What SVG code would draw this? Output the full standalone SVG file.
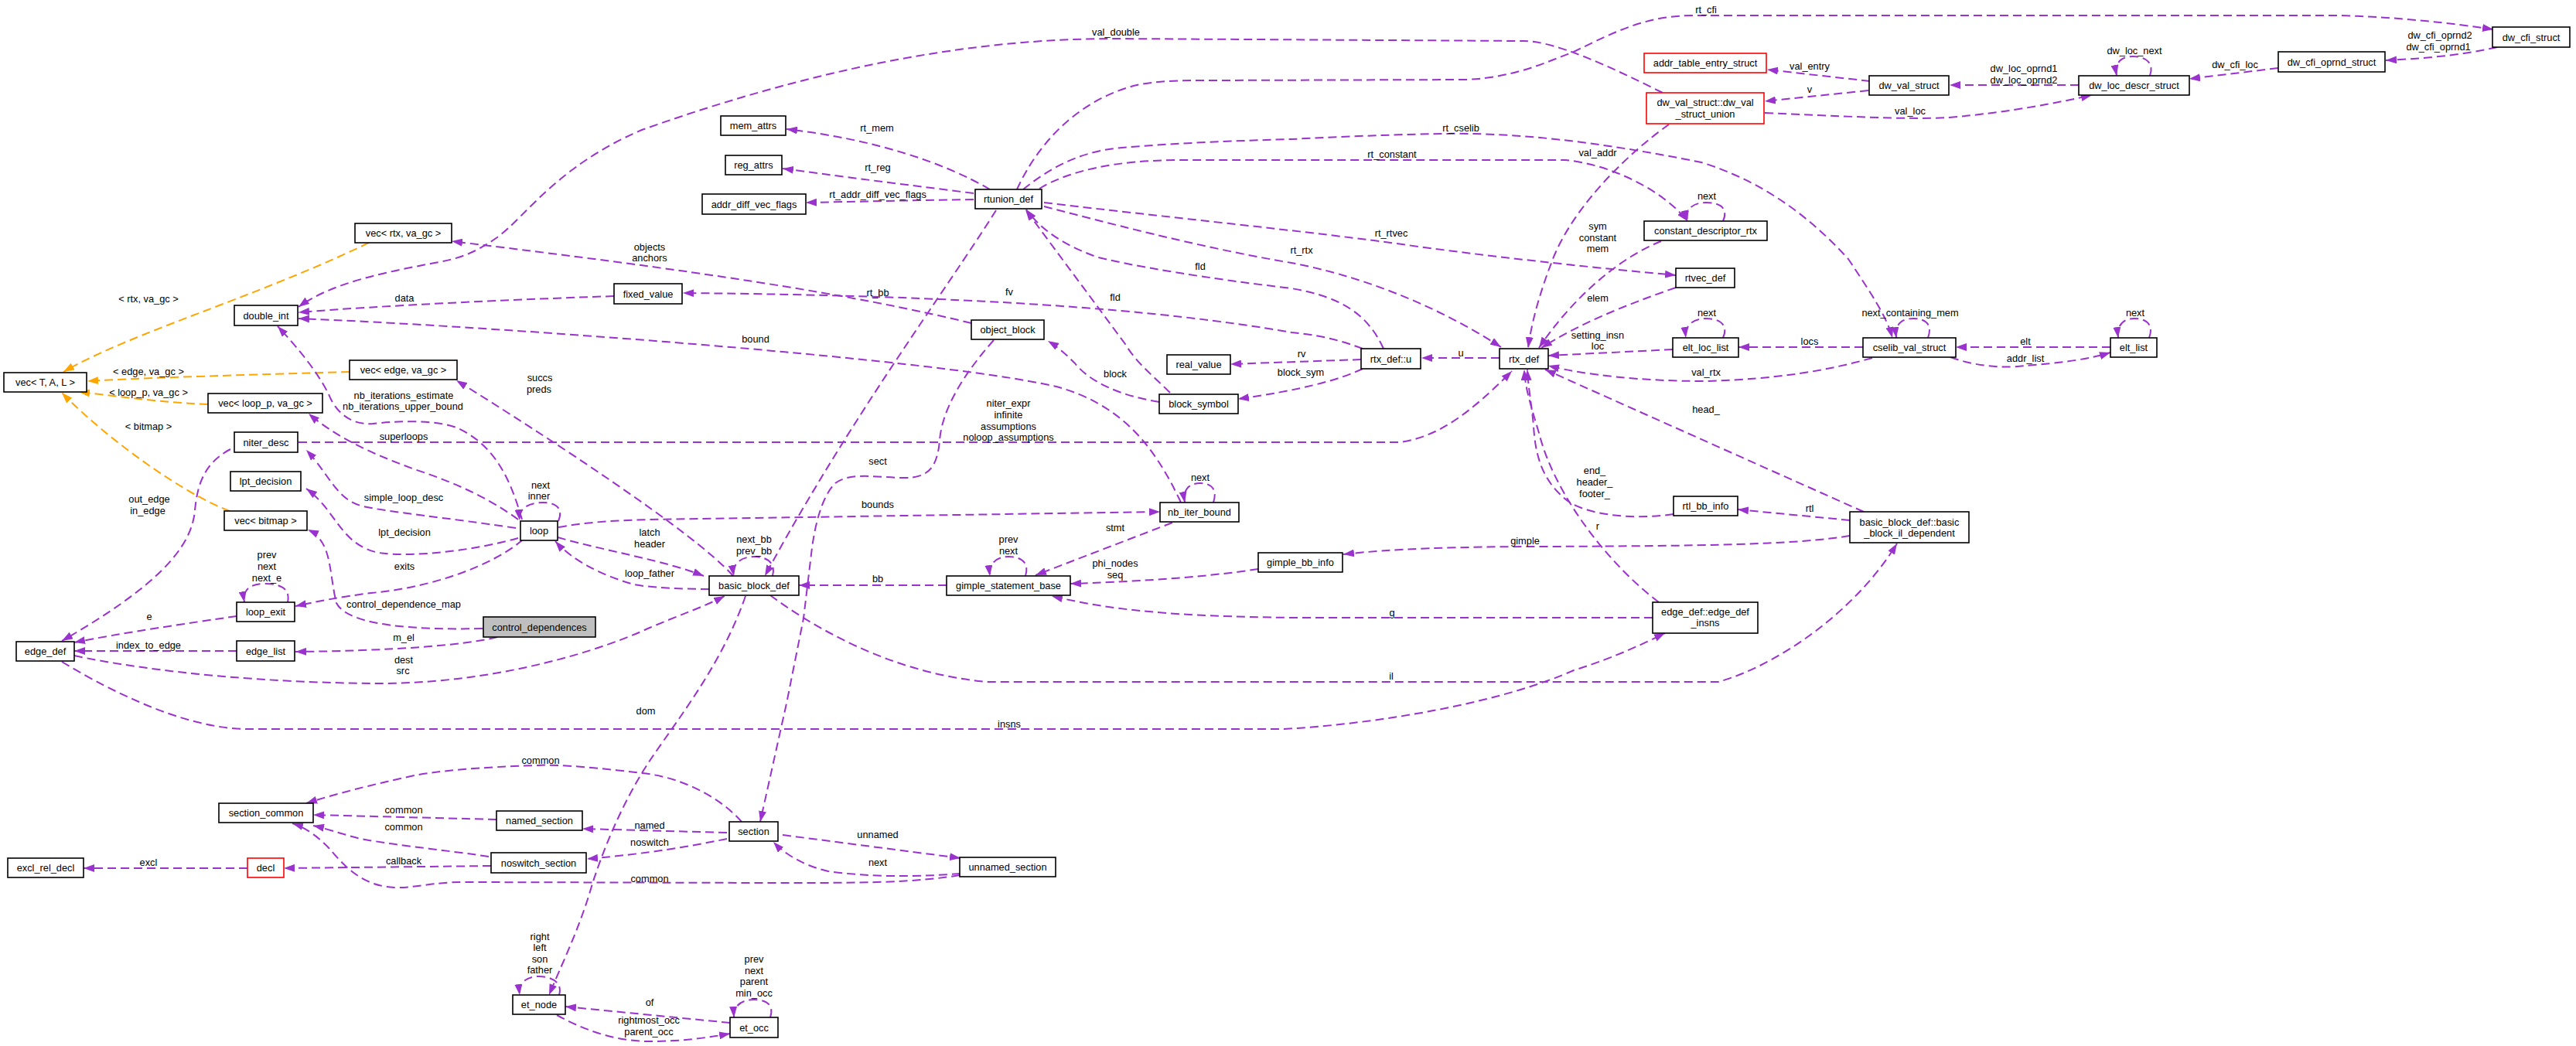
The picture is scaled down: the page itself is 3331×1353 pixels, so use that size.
<svg xmlns="http://www.w3.org/2000/svg" width="3331" height="1353" viewBox="0 0 3331 1353">
<style>
text{font-family:"Liberation Sans",Arial,Helvetica,sans-serif;font-size:12.8px;fill:#000;text-anchor:middle;dominant-baseline:central}
.n rect{fill:#fff;stroke:#000;stroke-width:1.6}
.n.red rect{stroke:#ff0000}
.n.sel rect{fill:#bfbfbf}
.e path{fill:none;stroke:#9a32cd;stroke-width:2;stroke-dasharray:11,6;marker-end:url(#ap)}
.o path{fill:none;stroke:#ffa500;stroke-width:2;stroke-dasharray:11,6;marker-end:url(#ao)}
</style>
<defs>
<marker id="ap" viewBox="0 0 14 10" refX="14" refY="5" markerWidth="14" markerHeight="10" markerUnits="userSpaceOnUse" orient="auto"><path d="M0,0 L14,5 L0,10 z" fill="#9a32cd"/></marker>
<marker id="ao" viewBox="0 0 14 10" refX="14" refY="5" markerWidth="14" markerHeight="10" markerUnits="userSpaceOnUse" orient="auto"><path d="M0,0 L14,5 L0,10 z" fill="#ffa500"/></marker>
</defs>
<rect width="3331" height="1353" fill="#fff"/>
<g id="connectors">
<g class="o"><path d="M477,314 C330,385 170,430 82,481"/><text x="192" y="386">&lt; rtx, va_gc &gt;</text></g>
<g class="o"><path d="M452,481 C350,484 200,488 113,493"/><text x="192" y="480">&lt; edge, va_gc &gt;</text></g>
<g class="o"><path d="M269,523 C200,520 150,512 102,507"/><text x="192" y="507">&lt; loop_p, va_gc &gt;</text></g>
<g class="o"><path d="M297,661 C240,640 140,570 80,508"/><text x="192" y="551">&lt; bitmap &gt;</text></g>
<g class="e"><path d="M2150,120 C2080,85 2010,53 1970,53 L1440,50 C1250,50 1050,90 830,168 C720,215 680,280 643,307 C610,330 590,335 562,340 C500,352 430,365 386,397"/><text x="1443" y="41">val_double</text></g>
<g class="e"><path d="M794,383 C650,388 500,395 386,404"/><text x="523" y="385">data</text></g>
<g class="e"><path d="M1527,650 C1490,570 1445,522 1366,500 C1200,462 600,420 386,412"/><text x="977" y="438">bound</text></g>
<g class="e"><path d="M675,672 C660,620 640,575 590,553 C560,542 510,545 482,548 C455,550 435,535 425,510 C410,480 385,450 359,422"/><text x="522" y="511">nb_iterations_estimate</text><text x="521" y="525">nb_iterations_upper_bound</text></g>
<g class="e"><path d="M1256,418 C1100,380 900,350 584,312"/><text x="840" y="319">objects</text><text x="840" y="333">anchors</text></g>
<g class="e"><path d="M1762,451 C1720,435 1690,432 1670,430 C1500,400 1250,382 883,379"/><text x="1305" y="377">fv</text></g>
<g class="e"><path d="M1789,451 C1770,410 1740,385 1670,373 C1560,360 1470,345 1420,333 C1370,315 1345,295 1327,271"/><text x="1552" y="344">fld</text></g>
<g class="e"><path d="M1513,508 C1490,485 1470,470 1455,445 L1326,271"/><text x="1442" y="384">fld</text></g>
<g class="e"><path d="M1288,272 C1220,380 1100,540 989,745"/><text x="1135" y="378">rt_bb</text></g>
<g class="e"><path d="M1280,245 C1220,210 1130,180 1017,167"/><text x="1134" y="165">rt_mem</text></g>
<g class="e"><path d="M1259,250 C1180,240 1100,230 1012,218"/><text x="1135" y="216">rt_reg</text></g>
<g class="e"><path d="M1259,258 C1180,259 1100,261 1042,262"/><text x="1135" y="251">rt_addr_diff_vec_flags</text></g>
<g class="e"><path d="M1315,245 C1340,190 1390,130 1470,110 C1500,104 1530,104 1560,104 L1896,103 C1960,100 2000,80 2035,67 C2090,40 2130,20 2190,20 L3026,20 C3100,22 3170,30 3224,38"/><text x="2206" y="12">rt_cfi</text></g>
<g class="e"><path d="M2418,105 L2285,90"/><text x="2340" y="85">val_entry</text></g>
<g class="e"><path d="M2416,117 L2282,131"/><text x="2340" y="115">v</text></g>
<g class="e"><path d="M2282,146 C2380,150 2460,155 2520,152 C2600,145 2660,133 2705,123"/><text x="2470" y="143">val_loc</text></g>
<g class="e"><path d="M2688,110 L2521,110"/><text x="2617" y="88">dw_loc_oprnd1</text><text x="2617" y="103">dw_loc_oprnd2</text></g>
<g class="e"><path d="M2780,98 C2786,82 2775,73 2758,73 C2742,73 2734,82 2737,98"/><text x="2760" y="65">dw_loc_next</text></g>
<g class="e"><path d="M2946,88 L2831,102"/><text x="2890" y="83">dw_cfi_loc</text></g>
<g class="e"><path d="M3229,61 C3180,72 3130,76 3085,78"/><text x="3155" y="45">dw_cfi_oprnd2</text><text x="3153" y="60">dw_cfi_oprnd1</text></g>
<g class="e"><path d="M2158,161 C2110,195 2040,260 2010,330 C1990,380 1980,420 1976,450"/><text x="2066" y="197">val_addr</text></g>
<g class="e"><path d="M1323,245 C1360,215 1400,195 1451,191 C1520,185 1600,182 1670,180 C1750,176 1850,172 1906,173 C2000,175 2100,190 2200,210 C2280,235 2340,280 2390,335 C2420,380 2440,410 2447,437"/><text x="1889" y="165">rt_cselib</text></g>
<g class="e"><path d="M1344,244 C1380,222 1440,207 1526,207 L2024,207 C2080,212 2150,245 2182,286"/><text x="1800" y="199">rt_constant</text></g>
<g class="e"><path d="M2228,286 C2236,268 2222,262 2206,262 C2190,262 2178,270 2182,286"/><text x="2207" y="253">next</text></g>
<g class="e"><path d="M2148,312 C2090,335 2030,390 1990,450"/><text x="2066" y="292">sym</text><text x="2066" y="307">constant</text><text x="2066" y="321">mem</text></g>
<g class="e"><path d="M1350,262 C1500,280 1700,300 1820,317 C1950,335 2080,348 2167,356"/><text x="1799" y="301">rt_rtvec</text></g>
<g class="e"><path d="M1350,267 C1420,285 1550,320 1670,340 C1750,355 1850,390 1941,449"/><text x="1683" y="323">rt_rtx</text></g>
<g class="e"><path d="M2167,372 C2100,395 2040,420 1993,450"/><text x="2066" y="385">elem</text></g>
<g class="e"><path d="M2163,452 L2002,460"/><text x="2066" y="433">setting_insn</text><text x="2066" y="447">loc</text></g>
<g class="e"><path d="M2228,437 C2236,419 2222,412 2206,412 C2190,412 2178,420 2180,437"/><text x="2207" y="404">next</text></g>
<g class="e"><path d="M2409,449 L2248,449"/><text x="2340" y="441">locs</text></g>
<g class="e"><path d="M2493,437 C2500,418 2488,412 2474,412 C2458,412 2450,420 2452,437"/><text x="2470" y="404">next_containing_mem</text></g>
<g class="e"><path d="M2729,449 L2529,449"/><text x="2619" y="441">elt</text></g>
<g class="e"><path d="M2522,462 C2560,476 2600,476 2619,473 C2660,470 2700,465 2729,456"/><text x="2619" y="463">addr_list</text></g>
<g class="e"><path d="M2779,437 C2786,419 2774,412 2760,412 C2746,412 2737,420 2739,437"/><text x="2761" y="404">next</text></g>
<g class="e"><path d="M2421,463 C2360,480 2300,490 2206,493 C2120,493 2050,485 2002,473"/><text x="2206" y="481">val_rtx</text></g>
<g class="e"><path d="M1939,463 L1838,463"/><text x="1889" y="456">u</text></g>
<g class="e"><path d="M1760,465 L1591,471"/><text x="1683" y="457">rv</text></g>
<g class="e"><path d="M1762,477 C1730,492 1680,505 1601,516"/><text x="1682" y="481">block_sym</text></g>
<g class="e"><path d="M1499,520 C1450,512 1410,495 1390,470 C1380,460 1370,450 1355,441"/><text x="1442" y="483">block</text></g>
<g class="e"><path d="M1285,440 C1245,485 1218,530 1215,570 C1212,605 1200,618 1170,618 C1135,618 1100,610 1080,625 C1060,645 1052,690 1049,717 L1039,800 L1017,910 L983,1063"/><text x="1135" y="596">sect</text></g>
<g class="e"><path d="M948,745 C900,690 700,560 590,492"/><text x="698" y="488">succs</text><text x="697" y="503">preds</text></g>
<g class="e"><path d="M386,572 L1810,572 C1860,565 1900,535 1955,480"/><text x="1304" y="521">niter_expr</text><text x="1304" y="536">infinite</text><text x="1304" y="551">assumptions</text><text x="1304" y="565">noloop_assumptions</text></g>
<g class="e"><path d="M670,672 C640,650 600,628 536,607 C490,590 440,570 399,535"/><text x="522" y="564">superloops</text></g>
<g class="e"><path d="M298,581 C262,600 255,630 252,660 C248,710 200,760 80,829"/><text x="193" y="645">out_edge</text><text x="191" y="660">in_edge</text></g>
<g class="e"><path d="M667,683 C580,670 500,662 470,655 C435,647 427,615 396,582"/><text x="522" y="643">simple_loop_desc</text></g>
<g class="e"><path d="M670,696 C620,710 540,722 490,715 C440,705 435,660 396,632"/><text x="523" y="688">lpt_decision</text></g>
<g class="e"><path d="M676,698 C640,730 560,760 480,767 C440,772 410,778 382,784"/><text x="523" y="732">exits</text></g>
<g class="e"><path d="M624,813 C540,815 450,810 435,780 C425,740 430,700 398,685"/><text x="522" y="781">control_dependence_map</text></g>
<g class="e"><path d="M643,824 C600,835 500,842 382,843"/><text x="522" y="824">m_el</text></g>
<g class="e"><path d="M306,842 L96,842"/><text x="192" y="834">index_to_edge</text></g>
<g class="e"><path d="M306,797 C250,805 150,820 96,831"/><text x="193" y="797">e</text></g>
<g class="e"><path d="M372,779 C376,760 360,755 343,755 C325,755 313,762 316,779"/><text x="345" y="717">prev</text><text x="345" y="732">next</text><text x="345" y="747">next_e</text></g>
<g class="e"><path d="M722,674 C730,655 715,650 702,650 C688,650 670,655 672,673"/><text x="699" y="627">next</text><text x="697" y="641">inner</text></g>
<g class="e"><path d="M721,695 C780,712 860,725 910,745"/><text x="840" y="688">latch</text><text x="840" y="703">header</text></g>
<g class="e"><path d="M722,682 C760,675 800,673 840,672 L1500,662"/><text x="1135" y="652">bounds</text></g>
<g class="e"><path d="M917,762 C880,762 840,760 820,756 C780,745 740,725 718,700"/><text x="840" y="741">loop_father</text></g>
<g class="e"><path d="M96,848 C200,870 350,884 500,884 C650,882 780,840 840,812 C880,795 910,785 937,771"/><text x="522" y="853">dest</text><text x="521" y="867">src</text></g>
<g class="e"><path d="M80,856 C120,880 150,895 180,908 C230,930 280,943 320,943 L1660,943 C1800,935 1950,905 2035,867 C2090,850 2130,830 2153,819"/><text x="1305" y="936">insns</text></g>
<g class="e"><path d="M996,770 C1050,810 1150,870 1275,882 L2222,882 C2300,860 2400,790 2453,703"/><text x="1799" y="874">il</text></g>
<g class="e"><path d="M2137,799 L1670,799 C1520,797 1440,790 1360,771"/><text x="1800" y="792">g</text></g>
<g class="e"><path d="M2145,779 C2080,730 2010,640 1990,560 C1978,520 1972,500 1971,478"/><text x="2066" y="680">r</text></g>
<g class="e"><path d="M2164,665 C2120,672 2060,668 2030,650 C1995,625 1985,590 1983,550 C1980,520 1976,500 1975,478"/><text x="2062" y="608">end_</text><text x="2062" y="623">header_</text><text x="2062" y="638">footer_</text></g>
<g class="e"><path d="M2410,662 L1998,478"/><text x="2206" y="529">head_</text></g>
<g class="e"><path d="M2392,673 L2247,659"/><text x="2340" y="657">rtl</text></g>
<g class="e"><path d="M2392,693 C2320,705 2200,706 2000,707 C1880,707 1800,710 1737,717"/><text x="1972" y="699">gimple</text></g>
<g class="e"><path d="M1627,736 C1550,748 1450,753 1384,755"/><text x="1442" y="728">phi_nodes</text><text x="1442" y="743">seq</text></g>
<g class="e"><path d="M1516,676 L1339,744"/><text x="1442" y="682">stmt</text></g>
<g class="e"><path d="M1326,745 C1332,726 1318,720 1304,720 C1290,720 1278,728 1280,745"/><text x="1304" y="697">prev</text><text x="1304" y="712">next</text></g>
<g class="e"><path d="M1569,650 C1575,632 1565,625 1552,625 C1538,625 1529,633 1532,650"/><text x="1552" y="617">next</text></g>
<g class="e"><path d="M1224,757 L1033,757"/><text x="1135" y="748">bb</text></g>
<g class="e"><path d="M999,745 C1004,727 990,720 975,720 C960,720 946,728 949,745"/><text x="975" y="697">next_bb</text><text x="975" y="712">prev_bb</text></g>
<g class="e"><path d="M964,771 C930,870 860,950 830,1000 C800,1050 780,1100 766,1143 C750,1200 725,1250 710,1287"/><text x="835" y="919">dom</text></g>
<g class="e"><path d="M959,1063 C930,1030 880,1005 830,1000 C780,994 720,988 696,990 C620,992 560,998 536,1003 C480,1015 430,1028 396,1039"/><text x="699" y="983">common</text></g>
<g class="e"><path d="M642,1060 L405,1054"/><text x="522" y="1047">common</text></g>
<g class="e"><path d="M632,1108 C580,1100 480,1090 455,1082 C430,1075 415,1070 405,1068"/><text x="522" y="1069">common</text></g>
<g class="e"><path d="M635,1120 L367,1123"/><text x="522" y="1113">callback</text></g>
<g class="e"><path d="M320,1123 L108,1123"/><text x="192" y="1115">excl</text></g>
<g class="e"><path d="M1241,1132 C1180,1142 1120,1142 1000,1142 L600,1141 C560,1141 540,1148 514,1148 C470,1148 445,1120 428,1100 C415,1085 395,1070 378,1065"/><text x="840" y="1136">common</text></g>
<g class="e"><path d="M940,1077 L753,1072"/><text x="840" y="1067">named</text></g>
<g class="e"><path d="M940,1085 C890,1095 840,1104 759,1111"/><text x="840" y="1089">noswitch</text></g>
<g class="e"><path d="M1012,1080 L1242,1110"/><text x="1135" y="1079">unnamed</text></g>
<g class="e"><path d="M1242,1130 C1180,1135 1120,1134 1071,1127 C1040,1120 1015,1105 1000,1089"/><text x="1135" y="1115">next</text></g>
<g class="e"><path d="M944,1323 L731,1302"/><text x="840" y="1296">of</text></g>
<g class="e"><path d="M720,1313 C760,1335 800,1347 840,1347 C880,1347 910,1343 944,1337"/><text x="839" y="1319">rightmost_occ</text><text x="839" y="1334">parent_occ</text></g>
<g class="e"><path d="M723,1287 C728,1270 712,1263 697,1263 C682,1263 670,1270 672,1287"/><text x="698" y="1211">right</text><text x="698" y="1225">left</text><text x="698" y="1240">son</text><text x="698" y="1254">father</text></g>
<g class="e"><path d="M996,1316 C1002,1298 988,1293 975,1293 C960,1293 948,1300 949,1316"/><text x="975" y="1240">prev</text><text x="975" y="1255">next</text><text x="975" y="1269">parent</text><text x="975" y="1284">min_occ</text></g>
</g>
<g id="n_vec_rtx" class="n"><rect x="459" y="289" width="125" height="25"/><text x="521.5" y="301.5">vec&lt; rtx, va_gc &gt;</text></g>
<g id="n_double_int" class="n"><rect x="303" y="395" width="82" height="26"/><text x="344" y="408">double_int</text></g>
<g id="n_fixed_value" class="n"><rect x="794" y="367" width="88" height="26"/><text x="838" y="380">fixed_value</text></g>
<g id="n_mem_attrs" class="n"><rect x="932" y="150" width="84" height="25"/><text x="974" y="162.5">mem_attrs</text></g>
<g id="n_reg_attrs" class="n"><rect x="938" y="201" width="73" height="25"/><text x="974.5" y="213.5">reg_attrs</text></g>
<g id="n_addr_diff_vec_flags" class="n"><rect x="908" y="251" width="134" height="26"/><text x="975" y="264">addr_diff_vec_flags</text></g>
<g id="n_rtunion_def" class="n"><rect x="1261" y="245" width="86" height="25"/><text x="1304" y="257.5">rtunion_def</text></g>
<g id="n_object_block" class="n"><rect x="1256" y="414" width="94" height="25"/><text x="1303" y="426.5">object_block</text></g>
<g id="n_addr_table_entry_struct" class="n red"><rect x="2126" y="69" width="158" height="25"/><text x="2205" y="81.5">addr_table_entry_struct</text></g>
<g id="n_dw_val_struct_union" class="n red"><rect x="2129" y="120" width="152" height="40"/><text x="2205" y="132">dw_val_struct::dw_val</text><text x="2205" y="147">_struct_union</text></g>
<g id="n_dw_val_struct" class="n"><rect x="2417" y="98" width="103" height="25"/><text x="2468.5" y="110.5">dw_val_struct</text></g>
<g id="n_dw_loc_descr_struct" class="n"><rect x="2688" y="98" width="143" height="25"/><text x="2759.5" y="110.5">dw_loc_descr_struct</text></g>
<g id="n_dw_cfi_oprnd_struct" class="n"><rect x="2946" y="67" width="138" height="26"/><text x="3015" y="80">dw_cfi_oprnd_struct</text></g>
<g id="n_dw_cfi_struct" class="n"><rect x="3223" y="35" width="100" height="26"/><text x="3273" y="48">dw_cfi_struct</text></g>
<g id="n_constant_descriptor_rtx" class="n"><rect x="2126" y="286" width="159" height="25"/><text x="2205.5" y="298.5">constant_descriptor_rtx</text></g>
<g id="n_rtvec_def" class="n"><rect x="2167" y="347" width="76" height="25"/><text x="2205" y="359.5">rtvec_def</text></g>
<g id="n_elt_loc_list" class="n"><rect x="2163" y="437" width="85" height="25"/><text x="2205.5" y="449.5">elt_loc_list</text></g>
<g id="n_cselib_val_struct" class="n"><rect x="2409" y="437" width="120" height="25"/><text x="2469" y="449.5">cselib_val_struct</text></g>
<g id="n_elt_list" class="n"><rect x="2729" y="437" width="60" height="25"/><text x="2759" y="449.5">elt_list</text></g>
<g id="n_rtx_def" class="n"><rect x="1939" y="451" width="63" height="26"/><text x="1970.5" y="464">rtx_def</text></g>
<g id="n_rtx_def_u" class="n"><rect x="1760" y="451" width="77" height="26"/><text x="1798.5" y="464">rtx_def::u</text></g>
<g id="n_real_value" class="n"><rect x="1509" y="459" width="82" height="25"/><text x="1550" y="471.5">real_value</text></g>
<g id="n_block_symbol" class="n"><rect x="1499" y="510" width="102" height="25"/><text x="1550" y="522.5">block_symbol</text></g>
<g id="n_vec_T" class="n"><rect x="5" y="482" width="107" height="25"/><text x="58.5" y="494.5">vec&lt; T, A, L &gt;</text></g>
<g id="n_vec_edge" class="n"><rect x="452" y="466" width="139" height="25"/><text x="521.5" y="478.5">vec&lt; edge, va_gc &gt;</text></g>
<g id="n_vec_loop" class="n"><rect x="269" y="509" width="148" height="25"/><text x="343" y="521.5">vec&lt; loop_p, va_gc &gt;</text></g>
<g id="n_niter_desc" class="n"><rect x="303" y="559" width="82" height="26"/><text x="344" y="572">niter_desc</text></g>
<g id="n_lpt_decision" class="n"><rect x="298" y="610" width="91" height="25"/><text x="343.5" y="622.5">lpt_decision</text></g>
<g id="n_vec_bitmap" class="n"><rect x="290" y="661" width="107" height="25"/><text x="343.5" y="673.5">vec&lt; bitmap &gt;</text></g>
<g id="n_loop" class="n"><rect x="673" y="674" width="48" height="25"/><text x="697" y="686.5">loop</text></g>
<g id="n_loop_exit" class="n"><rect x="306" y="779" width="75" height="25"/><text x="343.5" y="791.5">loop_exit</text></g>
<g id="n_control_dependences" class="n sel"><rect x="625" y="798" width="145" height="26"/><text x="697.5" y="811">control_dependences</text></g>
<g id="n_edge_def" class="n"><rect x="21" y="830" width="75" height="25"/><text x="58.5" y="842.5">edge_def</text></g>
<g id="n_edge_list" class="n"><rect x="306" y="829" width="75" height="26"/><text x="343.5" y="842">edge_list</text></g>
<g id="n_basic_block_def" class="n"><rect x="917" y="745" width="116" height="25"/><text x="975" y="757.5">basic_block_def</text></g>
<g id="n_gimple_statement_base" class="n"><rect x="1224" y="745" width="160" height="25"/><text x="1304" y="757.5">gimple_statement_base</text></g>
<g id="n_nb_iter_bound" class="n"><rect x="1500" y="650" width="102" height="25"/><text x="1551" y="662.5">nb_iter_bound</text></g>
<g id="n_gimple_bb_info" class="n"><rect x="1627" y="715" width="109" height="25"/><text x="1681.5" y="727.5">gimple_bb_info</text></g>
<g id="n_rtl_bb_info" class="n"><rect x="2164" y="642" width="83" height="25"/><text x="2205.5" y="654.5">rtl_bb_info</text></g>
<g id="n_il_dependent" class="n"><rect x="2392" y="662" width="154" height="40"/><text x="2469" y="675">basic_block_def::basic</text><text x="2469" y="689">_block_il_dependent</text></g>
<g id="n_edge_def_insns" class="n"><rect x="2137" y="779" width="136" height="40"/><text x="2205" y="791">edge_def::edge_def</text><text x="2205" y="805">_insns</text></g>
<g id="n_section_common" class="n"><rect x="283" y="1039" width="122" height="25"/><text x="344" y="1051.5">section_common</text></g>
<g id="n_named_section" class="n"><rect x="642" y="1049" width="111" height="25"/><text x="697.5" y="1061.5">named_section</text></g>
<g id="n_noswitch_section" class="n"><rect x="635" y="1103" width="123" height="26"/><text x="696.5" y="1116">noswitch_section</text></g>
<g id="n_excl_rel_decl" class="n"><rect x="10" y="1110" width="98" height="25"/><text x="59" y="1122.5">excl_rel_decl</text></g>
<g id="n_decl" class="n red"><rect x="320" y="1110" width="47" height="25"/><text x="343.5" y="1122.5">decl</text></g>
<g id="n_et_node" class="n"><rect x="663" y="1287" width="68" height="25"/><text x="697" y="1299.5">et_node</text></g>
<g id="n_section" class="n"><rect x="943" y="1063" width="63" height="25"/><text x="974.5" y="1075.5">section</text></g>
<g id="n_unnamed_section" class="n"><rect x="1241" y="1109" width="124" height="25"/><text x="1303" y="1121.5">unnamed_section</text></g>
<g id="n_et_occ" class="n"><rect x="944" y="1316" width="62" height="26"/><text x="975" y="1329">et_occ</text></g>
</svg>
